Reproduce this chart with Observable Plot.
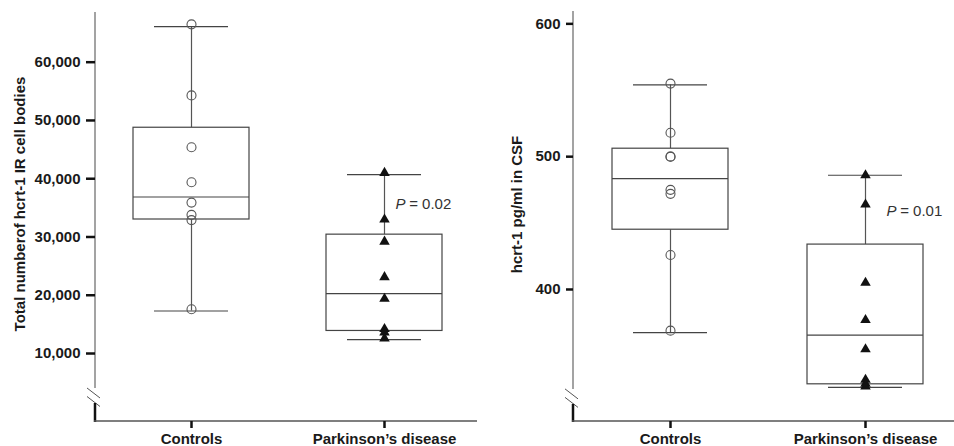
<!DOCTYPE html>
<html><head><meta charset="utf-8">
<script src="https://cdn.jsdelivr.net/npm/d3@7"></script>
<script src="https://cdn.jsdelivr.net/npm/@observablehq/plot@0.6"></script>
<style>
html,body{margin:0;padding:0;background:#fff;}
#wrap{display:flex;width:954px;height:446px;}
</style></head><body><div id="wrap"></div>
<script>
const groups = ["Controls", "Parkinson’s disease"];

// Left panel: hcrt-1 IR cell counts
const leftTicks = [10000, 20000, 30000, 40000, 50000, 60000];
const leftDomain = [-1670, 68530];
const leftBreak = 2450;
const leftControls = [66500, 54300, 45400, 39400, 35900, 33800, 32900, 17600];
const leftParkinson = [41000, 33000, 29200, 23100, 19400, 14200, 13600, 12600];
const leftLo = [17300, 12400];
const leftQ1 = [33000, 13870];
const leftMed = [36850, 20280];
const leftQ3 = [48750, 30400];
const leftHi = [66100, 40700];
const leftP = "0.02";
const leftPAt = 35700;
const leftYLabel = "Total numberof hcrt-1 IR cell bodies";

// Right panel: hcrt-1 in CSF
const rightTicks = [400, 500, 600];
const rightDomain = [300.6, 609.3];
const rightBreak = 318;
const rightControls = [555, 518, 500, 500, 475, 472, 426, 369];
const rightParkinson = [486, 464, 405, 377, 355, 332, 329, 327];
const rightLo = [367.5, 326.3];
const rightQ1 = [445, 328.6];
const rightMed = [483.5, 365.6];
const rightQ3 = [506, 433.8];
const rightHi = [554, 486];
const rightP = "0.01";
const rightPAt = 459;
const rightYLabel = "hcrt-1 pg/ml in CSF";

const FONT = "'Liberation Sans', Arial, Helvetica, sans-serif";

function axisWithBreak(breakAt) {
  return (index, scales, values, dims) => {
    const x0 = dims.marginLeft;
    const yTop = dims.marginTop;
    const yBot = dims.height - dims.marginBottom;
    const yb = scales.y(breakAt);
    const g = d3.create("svg:g");
    g.append("line").attr("x1", x0).attr("x2", x0).attr("y1", yTop).attr("y2", yb - 9)
      .attr("stroke", "#8c8c8c").attr("stroke-width", 1.6);
    g.append("line").attr("x1", x0 - 8).attr("x2", x0 + 5).attr("y1", yb - 9).attr("y2", yb + 1)
      .attr("stroke", "#555").attr("stroke-width", 1);
    g.append("line").attr("x1", x0 - 8).attr("x2", x0 + 5).attr("y1", yb - 0.5).attr("y2", yb + 9.5)
      .attr("stroke", "#555").attr("stroke-width", 1);
    g.append("line").attr("x1", x0).attr("x2", x0).attr("y1", yb + 6).attr("y2", yBot + 1)
      .attr("stroke", "#111").attr("stroke-width", 2.5);
    g.append("line").attr("x1", x0 - 1).attr("x2", dims.width).attr("y1", yBot).attr("y2", yBot)
      .attr("stroke", "#555").attr("stroke-width", 1.5);
    return g.node();
  };
}

function panel(cfg) {
  const box = groups.map((g, i) => ({group: g, lo: cfg.lo[i], q1: cfg.q1[i], med: cfg.med[i], q3: cfg.q3[i], hi: cfg.hi[i]}));
  const ctrl = cfg.controls.map(v => ({group: groups[0], v}));
  const pd = cfg.parkinson.map(v => ({group: groups[1], v}));
  const ann = [{group: groups[1], y: cfg.pAt}];
  return Plot.plot({
    width: 477, height: 446,
    marginLeft: cfg.marginLeft, marginRight: 0, marginTop: cfg.marginTop, marginBottom: 25,
    style: {fontFamily: FONT, fontSize: "15px", fontWeight: "bold", color: "#1a1a1a", background: "white"},
    x: {type: "band", domain: groups, paddingInner: cfg.pi, paddingOuter: cfg.po, align: cfg.align, axis: null},
    y: {domain: cfg.domain, axis: null},
    marks: [
      axisWithBreak(cfg.breakAt),
      Plot.axisY(cfg.ticks, {tickSize: cfg.tickSize, tickPadding: 6, strokeWidth: 2.5, stroke: "#111",
        tickFormat: d3.format(","), label: null, fontSize: 15}),
      Plot.axisX({tickSize: 7, tickPadding: 5, strokeWidth: 2.5, stroke: "#111", label: null, fontSize: 15}),
      Plot.text([cfg.yLabel], {frameAnchor: "left", rotate: -90, text: d => d, dx: cfg.labelDx, dy: cfg.labelDy,
        textAnchor: "middle", lineAnchor: "middle", fontSize: 15, fontWeight: "bold", fill: "#1a1a1a"}),
      Plot.ruleX(box, {x: "group", y1: "lo", y2: "q1", stroke: "#555", strokeWidth: 1.2}),
      Plot.ruleX(box, {x: "group", y1: "q3", y2: "hi", stroke: "#555", strokeWidth: 1.2}),
      Plot.barY(box, {x: "group", y1: "q1", y2: "q3", fill: "white", stroke: "#444", strokeWidth: 1.2}),
      Plot.tickY(box, {x: "group", y: "med", stroke: "#444", strokeWidth: 1.1}),
      Plot.tickY(box, {x: "group", y: "lo", stroke: "#444", strokeWidth: 1.2, insetLeft: 21, insetRight: 21}),
      Plot.tickY(box, {x: "group", y: "hi", stroke: "#444", strokeWidth: 1.2, insetLeft: 21, insetRight: 21}),
      Plot.dot(ctrl, {x: "group", y: "v", r: 4.5, symbol: "circle", stroke: "#555", strokeWidth: 1.1, fill: "none"}),
      Plot.dot(pd, {x: "group", y: "v", r: 3.9, symbol: "triangle", fill: "#111", stroke: "none"}),
      Plot.text(ann, {x: "group", y: "y", text: () => "P", fontStyle: "italic", fontWeight: "normal", fontSize: 15,
        textAnchor: "start", dx: cfg.pDx, fill: "#333"}),
      Plot.text(ann, {x: "group", y: "y", text: () => " = " + cfg.p, fontWeight: "normal", fontSize: 15,
        textAnchor: "start", dx: cfg.pDx + 9.5, fill: "#333"})
    ]
  });
}

const left = panel({
  ticks: leftTicks, domain: leftDomain, breakAt: leftBreak,
  controls: leftControls, parkinson: leftParkinson,
  lo: leftLo, q1: leftQ1, med: leftMed, q3: leftQ3, hi: leftHi,
  p: leftP, pAt: leftPAt, yLabel: leftYLabel,
  marginLeft: 95, marginTop: 12, pi: 0.399, po: 0.189, align: 0.525,
  tickSize: 9, labelDx: -75, labelDy: -13, pDx: 11
});
const right = panel({
  ticks: rightTicks, domain: rightDomain, breakAt: rightBreak,
  controls: rightControls, parkinson: rightParkinson,
  lo: rightLo, q1: rightQ1, med: rightMed, q3: rightQ3, hi: rightHi,
  p: rightP, pAt: rightPAt, yLabel: rightYLabel,
  marginLeft: 96, marginTop: 11, pi: 0.403, po: 0.174, align: 0.565,
  tickSize: 7, labelDx: -56, labelDy: -12, pDx: 21
});
document.getElementById("wrap").append(left, right);
</script>
</body></html>
